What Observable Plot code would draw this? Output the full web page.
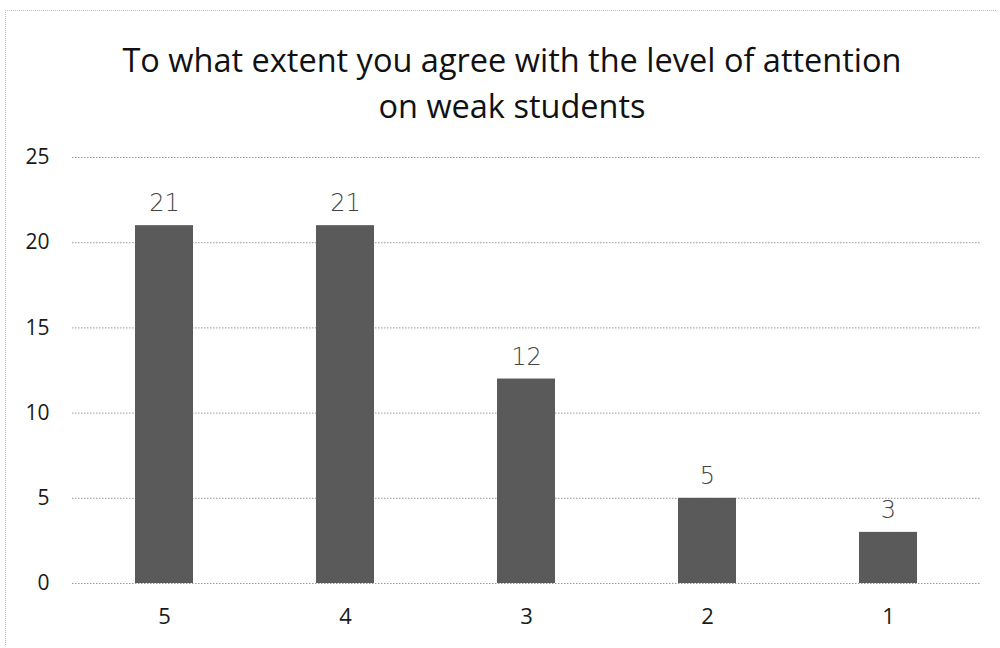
<!DOCTYPE html>
<html><head><meta charset="utf-8">
<script src="https://cdn.jsdelivr.net/npm/d3@7"></script>
<script src="https://cdn.jsdelivr.net/npm/@observablehq/plot@0.6"></script>
<style>
html,body{margin:0;padding:0;background:#fff;}
#wrap{width:1000px;height:648px;position:relative;overflow:hidden;}
#title{position:absolute;left:12px;top:0;width:1000px;height:135px;text-align:center;font-family:"Open Sans",sans-serif;font-size:32.5px;line-height:46px;color:#111;padding-top:37px;box-sizing:border-box;}
#chart{position:absolute;left:0;top:135px;}
#frame{position:absolute;left:5px;top:10px;width:990px;height:634px;border-left:1px dotted #bbb;border-top:1px dotted #bbb;}
</style></head>
<body><div id="wrap"><div id="frame"></div><div id="title">To what extent you agree with the level of attention<br>on weak students</div><div id="chart"></div></div>
<script>
const categories = ["5","4","3","2","1"];
const counts = [21, 21, 12, 5, 3];
const labels = ["21","21","12","5","3"];
const yTicks = [0,5,10,15,20,25];
const data = categories.map((c,i)=>({cat:c, n:counts[i], label:labels[i]}));
const plot = Plot.plot({
  width: 1000, height: 513,
  marginLeft: 72, marginRight: 20, marginTop: 22, marginBottom: 65,
  style: {fontFamily: "'Open Sans', sans-serif", color: "#1a1a1a", background: "transparent"},
  x: {domain: categories, paddingInner: 0.68, paddingOuter: 0.34, label: null},
  y: {domain: [0,25], label: null},
  marks: [
    Plot.ruleY(yTicks, {stroke: "#999", strokeDasharray: "1.5,1.5", strokeWidth: 1}),
    Plot.barY(data, {x: "cat", y: "n", fill: "#5a5a5a"}),
    Plot.axisX({tickSize: 0, tickPadding: 25, fontSize: 22, label: null}),
    Plot.axisY({ticks: yTicks, tickSize: 0, tickPadding: 23, fontSize: 21, label: null}),
    Plot.text(data, {x: "cat", y: "n", text: "label", dy: -22, fontSize: 24, fill: "#444", fontFamily: "'DejaVu Sans', sans-serif", fontWeight: 300})
  ]
});
document.getElementById("chart").appendChild(plot);
</script></body></html>
